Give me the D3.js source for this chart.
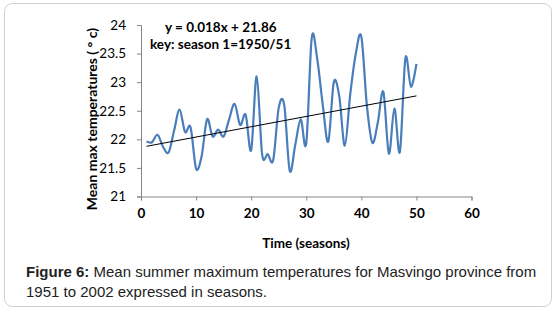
<!DOCTYPE html>
<html><head><meta charset="utf-8">
<script src="https://cdn.jsdelivr.net/npm/d3@7"></script>
<style>body{margin:0;background:#fff}svg{display:block}</style>
</head><body>
<script>
const seasons = d3.range(1, 51);
const temps = [21.96,21.95,22.08,21.87,21.77,22.15,22.52,22.13,22.21,21.49,
  21.70,22.35,22.05,22.17,22.05,22.35,22.62,22.25,22.43,21.81,
  23.10,21.73,21.74,21.64,22.55,22.60,21.45,21.90,22.35,21.93,
  23.78,23.40,22.60,21.96,23.00,22.75,21.89,22.80,23.50,23.80,
  22.60,21.94,22.30,22.83,21.75,22.54,21.78,23.42,22.92,23.32];
const xTicks = [0,10,20,30,40,50,60];
const yTicks = [21,21.5,22,22.5,23,23.5,24];
const slope = 0.018, intercept = 21.86;

const W = 556, H = 313;
const svg = d3.select("body").append("svg").attr("width", W).attr("height", H);
svg.append("rect").attr("x",4.5).attr("y",3.5).attr("width",547).attr("height",303)
  .attr("rx",8).attr("fill","#fff").attr("stroke","#cfcfcf");

const x = d3.scaleLinear().domain([0,60]).range([141,471.5]);
const y = d3.scaleLinear().domain([21,24]).range([196.5,25]);
const axisColor = "#868686";
const font = "Lato, 'Open Sans', sans-serif";

const gx = svg.append("g").attr("transform","translate(0,196.5)")
  .call(d3.axisBottom(x).tickValues(xTicks).tickSize(4).tickPadding(8).tickFormat(d3.format("d")));
const gy = svg.append("g").attr("transform","translate(141,0)")
  .call(d3.axisLeft(y).tickValues(yTicks).tickSize(4).tickPadding(11).tickFormat(d=>String(d)));
[gx,gy].forEach(g=>{
  g.selectAll("path,line").attr("stroke",axisColor);
  g.selectAll("text").attr("fill","#000").style("font-family",font).style("font-size","13.5px");
});
gx.selectAll("text").style("font-weight","bold");

// data line
const line = d3.line().x((d,i)=>x(seasons[i])).y(d=>y(d)).curve(d3.curveCatmullRom.alpha(0));
svg.append("path").datum(temps).attr("d",line).attr("fill","none")
  .attr("stroke","#4a7ebb").attr("stroke-width",2.2);

// trend line
const tl = [seasons[0], seasons[seasons.length-1]];
svg.append("line").attr("x1",x(tl[0])).attr("y1",y(slope*tl[0]+intercept))
  .attr("x2",x(tl[1])).attr("y2",y(slope*tl[1]+intercept))
  .attr("stroke","#000").attr("stroke-width",1);

// annotations
svg.append("text").attr("x",165).attr("y",32).text("y = 0.018x + 21.86")
  .style("font-family",font).style("font-weight","bold").style("font-size","13.5px");
svg.append("text").attr("x",150).attr("y",49).text("key: season 1=1950/51")
  .style("font-family",font).style("font-weight","bold").style("font-size","13.5px");

// axis titles
svg.append("text").attr("x",306).attr("y",248).attr("text-anchor","middle").text("Time (seasons)")
  .style("font-family",font).style("font-weight","bold").style("font-size","13.5px");
svg.append("text").attr("transform","translate(97,119) rotate(-90)").attr("text-anchor","middle")
  .text("Mean max  temperatures ( ° c)")
  .style("font-family",font).style("font-weight","bold").style("font-size","14px");

// caption
const cap = svg.append("text").style("font-family","'Liberation Sans', Arial, sans-serif").style("font-size","15px").attr("fill","#222");
const t1 = cap.append("tspan").attr("x",26).attr("y",277);
t1.append("tspan").style("font-weight","bold").text("Figure 6:");
t1.append("tspan").text(" Mean summer maximum temperatures for Masvingo province from");
cap.append("tspan").attr("x",26).attr("y",297).text("1951 to 2002 expressed in seasons.");
</script>
</body></html>
